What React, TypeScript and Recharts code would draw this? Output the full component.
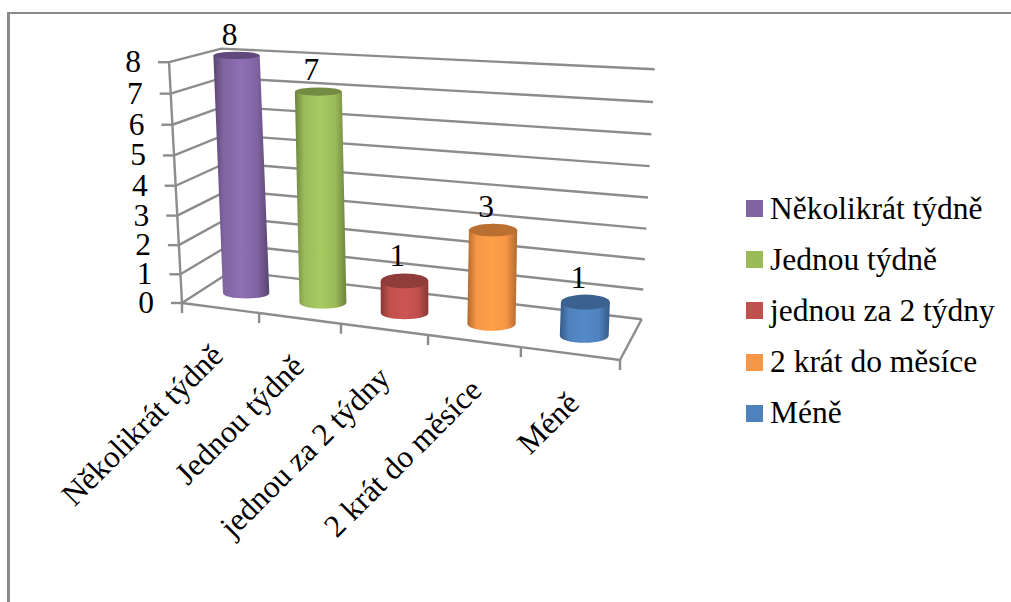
import { Bar, BarChart, CartesianGrid, LabelList, Legend, XAxis, YAxis } from "recharts"

const categories = ["Několikrát týdně", "Jednou týdně", "jednou za 2 týdny", "2 krát do měsíce", "Méně"]
const counts = [8, 7, 1, 3, 1]
const yTicks = [0, 1, 2, 3, 4, 5, 6, 7, 8]

const bodyColors = ["#8064A2", "#9BBB59", "#C0504D", "#F79646", "#4F81BD"]
const lightColors = ["#8D6FB3", "#A8CA60", "#CC5552", "#FFA047", "#5589CA"]
const edgeColors = ["#58446F", "#6C833E", "#883836", "#B06A2F", "#365A85"]
const capColors = ["#5F4A7B", "#748C42", "#8F3C3A", "#BA7030", "#3B618E"]

const rows = categories.map((name, i) => ({ name, count: counts[i] }))

const GRID = "#8C8C8C"
const GRID_WIDTH = 2.4
const FONT = "'Liberation Serif', 'Times New Roman', serif"
const FONT_SIZE = 31.5

// flat plot rectangle handed to recharts; project() bends it into the 3D box
const PLOT = { left: 182, right: 620, top: 62, bottom: 303 }
const MAX = 8

type Pt = { x: number; y: number }

const frontLeft = { x: 182, y: 303 }
const frontRight = { x: 620, y: 360 }
const backLeft = { x: 231.5, y: 271 }
const backRight = { x: 641.7, y: 319.3 }

const lerp = (a: number, b: number, k: number) => a + (b - a) * k
const lerpPt = (a: Pt, b: Pt, k: number) => ({ x: lerp(a.x, b.x, k), y: lerp(a.y, b.y, k) })

const foreshorten = (t: number) => t / (t + 1.17 * (1 - t))
const lift = (h: number) => h + 0.0065 * h * (h - MAX)

// t: 0..1 along the categories, d: 0..1 from front to back, h: axis value
const project = (t: number, d: number, h: number): Pt => {
  const p = foreshorten(t)
  const base = lerpPt(lerpPt(frontLeft, frontRight, p), lerpPt(backLeft, backRight, p), d)
  const unit = lerp(lerp(30.1, 33.3, p), lerp(27.8, 31.25, p), d)
  const up = lift(h)
  return { x: base.x + ((base.x - 412) * 0.0565 * up) / MAX, y: base.y - unit * up }
}

const toT = (x: number) => (x - PLOT.left) / (PLOT.right - PLOT.left)
const toH = (y: number) => ((PLOT.bottom - y) / (PLOT.bottom - PLOT.top)) * MAX
const line = (a: Pt, b: Pt) => `M${a.x},${a.y}L${b.x},${b.y}`

const wallLine = (props: any) => {
  const h = toH(props.y1)
  const a = project(0, 0, h)
  const b = project(0, 1, h)
  const c = project(1, 1, h)
  return <path key={props.key} d={`${line(a, b)}L${c.x},${c.y}`} fill="none" stroke={GRID} strokeWidth={GRID_WIDTH} />
}

const ValueTick = (props: any) => {
  const value = props.payload.value
  const p = project(0, 0, value)
  const next = project(0, 0, value + 1)
  return (
    <g>
      {value < MAX && <path d={line(p, next)} stroke={GRID} strokeWidth={GRID_WIDTH} />}
      <path d={`M${p.x - 11},${p.y}L${p.x},${p.y}`} stroke={GRID} strokeWidth={GRID_WIDTH} />
      <text x={p.x - 28} y={p.y + 10} textAnchor="end" fontFamily={FONT} fontSize={FONT_SIZE} fill="#000">
        {value}
      </text>
    </g>
  )
}

const CategoryTick = (props: any) => {
  const t = toT(props.x)
  const step = 1 / categories.length
  const start = project(t - step / 2, 0, 0)
  const end = project(t + step / 2, 0, 0)
  const mid = project(t, 0, 0)
  const isLast = props.index === categories.length - 1
  const ax = mid.x + 4 + 8 * t
  const ay = mid.y + 49 + 3 * t
  return (
    <g>
      <path d={line(start, end)} stroke={GRID} strokeWidth={GRID_WIDTH} />
      <path d={`M${start.x},${start.y}L${start.x},${start.y + 10}`} stroke={GRID} strokeWidth={GRID_WIDTH} />
      {isLast && (
        <>
          <path d={`M${end.x},${end.y}L${end.x},${end.y + 10}`} stroke={GRID} strokeWidth={GRID_WIDTH} />
          <path d={line(end, project(1, 1, 0))} stroke={GRID} strokeWidth={GRID_WIDTH} />
        </>
      )}
      <text
        x={ax}
        y={ay}
        textAnchor="end"
        transform={`rotate(-45 ${ax} ${ay})`}
        fontFamily={FONT}
        fontSize={FONT_SIZE}
        fill="#000"
      >
        {props.payload.value}
      </text>
    </g>
  )
}

const barGeometry = (x: number, y: number, width: number) => {
  const t = toT(x + width / 2)
  const h = toH(y)
  const bottom = project(t, 0.45, 0)
  const top = project(t, 0.45, h)
  const nudge = 3 + 2 * (1 - t)
  return {
    t,
    bottom: { x: bottom.x + nudge, y: bottom.y },
    top: { x: top.x + nudge, y: top.y - 3 },
    rx: (width / 2) * (1 + 0.07 * t),
    capRy: 8 - 0.55 * h,
    footRy: 5 + 2.5 * t,
  }
}

const Cylinder = (props: any) => {
  const { x, y, width, index } = props
  const g = barGeometry(x, y, width)
  const id = `cyl-${index}`
  const body =
    `M${g.top.x - g.rx},${g.top.y}L${g.bottom.x - g.rx},${g.bottom.y}` +
    `A${g.rx},${g.footRy} 0 0 0 ${g.bottom.x + g.rx},${g.bottom.y}` +
    `L${g.top.x + g.rx},${g.top.y}Z`
  return (
    <g>
      <defs>
        <linearGradient id={id} x1="0" y1="0" x2="1" y2="0">
          <stop offset="0" stopColor={edgeColors[index]} />
          <stop offset="0.18" stopColor={bodyColors[index]} />
          <stop offset="0.5" stopColor={lightColors[index]} />
          <stop offset="0.78" stopColor={bodyColors[index]} />
          <stop offset="1" stopColor={edgeColors[index]} />
        </linearGradient>
      </defs>
      <path d={body} fill={`url(#${id})`} />
      <ellipse cx={g.top.x} cy={g.top.y} rx={g.rx} ry={g.capRy} fill={capColors[index]} />
    </g>
  )
}

const CountLabel = (props: any) => {
  const { x, y, width, value } = props
  const g = barGeometry(x, y, width)
  return (
    <text
      x={g.top.x - 7}
      y={g.top.y - g.capRy - 7}
      textAnchor="middle"
      fontFamily={FONT}
      fontSize={FONT_SIZE}
      fill="#000"
    >
      {value}
    </text>
  )
}

const LegendList = () => (
  <div style={{ fontFamily: FONT, fontSize: FONT_SIZE, color: "#000" }}>
    {categories.map((name, i) => (
      <div key={name} style={{ display: "flex", alignItems: "center", height: 51.2, whiteSpace: "nowrap" }}>
        <span style={{ width: 17, height: 17, marginRight: 7, background: bodyColors[i], flex: "none" }} />
        {name}
      </div>
    ))}
  </div>
)

export default function App() {
  return (
    <div style={{ position: "absolute", left: 0, top: 0, width: 1011, height: 602, background: "#fff", overflow: "hidden" }}>
      <div
        style={{
          position: "absolute",
          left: 7,
          top: 12,
          width: 1004,
          height: 590,
          boxSizing: "border-box",
          borderLeft: "3px solid #8A8A8A",
          borderTop: "2px solid #8A8A8A",
        }}
      />
      <BarChart
        width={1011}
        height={602}
        data={rows}
        margin={{ left: PLOT.left - 80, right: 1011 - PLOT.right, top: PLOT.top, bottom: 602 - PLOT.bottom - 60 }}
        barCategoryGap="24%"
        style={{ position: "absolute", left: 0, top: 0 }}
      >
        <CartesianGrid vertical={false} horizontal={wallLine} />
        <XAxis dataKey="name" height={60} interval={0} axisLine={false} tickLine={false} tick={CategoryTick} />
        <YAxis width={80} domain={[0, MAX]} ticks={yTicks} axisLine={false} tickLine={false} tick={ValueTick} />
        <Legend
          layout="vertical"
          align="center"
          verticalAlign="middle"
          content={LegendList}
          wrapperStyle={{ left: 746, top: 183, width: 265 }}
        />
        <Bar dataKey="count" isAnimationActive={false} shape={Cylinder}>
          <LabelList dataKey="count" content={CountLabel} />
        </Bar>
      </BarChart>
    </div>
  )
}
